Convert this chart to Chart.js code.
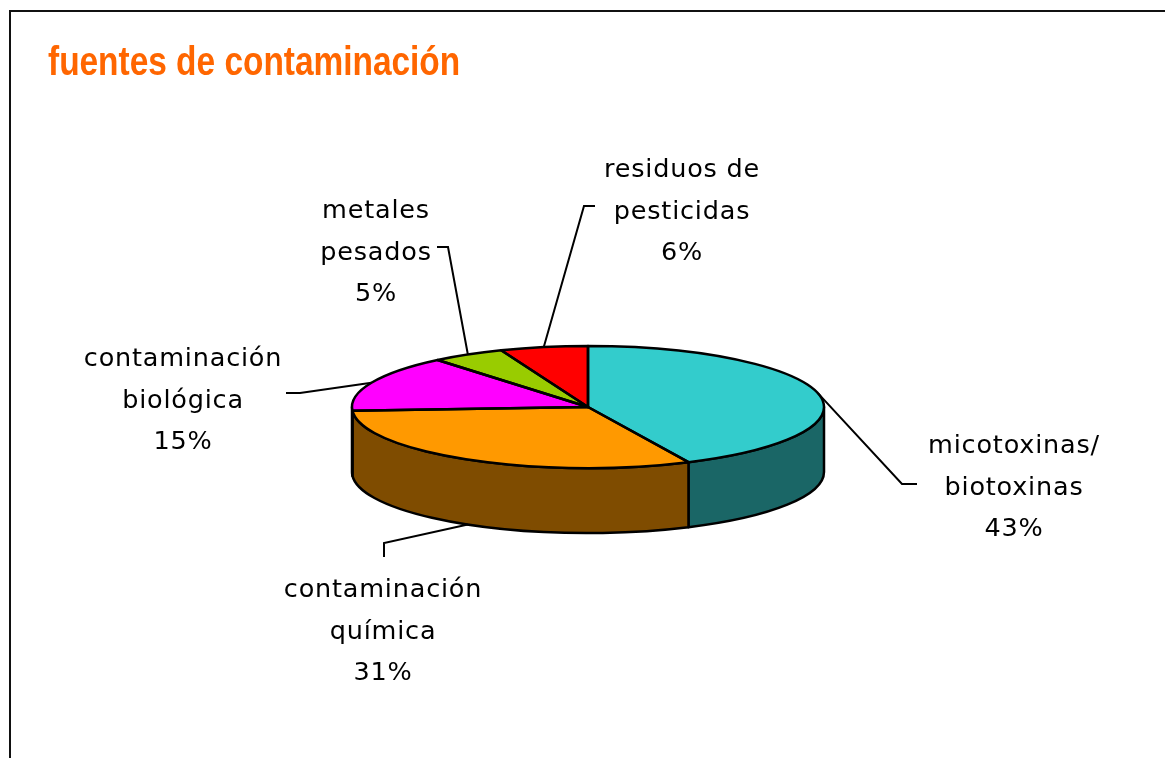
<!DOCTYPE html>
<html>
<head>
<meta charset="utf-8">
<script src="https://cdn.jsdelivr.net/npm/chart.js@4/dist/chart.umd.min.js"></script>
<style>
  html, body { margin: 0; padding: 0; background: #fff; overflow: hidden; }
  canvas { display: block; }
</style>
</head>
<body>
<canvas id="grafico" width="1165" height="758"></canvas>
<script>
// datos
const categorias = [
  ['micotoxinas/', 'biotoxinas'],
  ['contaminación', 'química'],
  ['contaminación', 'biológica'],
  ['metales', 'pesados'],
  ['residuos de', 'pesticidas']
]
const valores = [43, 31, 15, 5, 6]
const titulo = 'fuentes de contaminación'

// estilos
const coresTopo = ['#33CCCC', '#FF9900', '#FF00FF', '#99CC00', '#FF0000']
const coresLado = ['#1A6666', '#7F4C00', '#7F007F', '#4C6600', '#7F0000']
const inclinacao = 61 / 236
const profundidade = 65

// posicao dos rotulos: centro do texto, primeira linha base, cotovelo e fim da linha guia
const rotulos = [
  { x: 1014, y: 453, cotovelo: [902, 484], fim: [917, 484] },
  { x: 383, y: 597, cotovelo: [384, 543], fim: [384, 557] },
  { x: 183, y: 366, cotovelo: [300, 393], fim: [286, 393] },
  { x: 376, y: 218, cotovelo: [448, 247], fim: [437, 247] },
  { x: 682, y: 177, cotovelo: [584, 206], fim: [595, 206] }
]
const entreLinhas = 41.5

const total = valores.reduce(function(a, b) { return a + b }, 0)

const pizza3d = {
  id: 'pizza3d',
  beforeDraw(chart) {
    const ctx = chart.ctx
    ctx.save()
    ctx.strokeStyle = '#111'
    ctx.lineWidth = 2
    ctx.strokeRect(10, 11, 1400, 1000)
    ctx.fillStyle = '#FF6600'
    ctx.font = 'bold 41px "Liberation Sans", Arial, sans-serif'
    ctx.textBaseline = 'alphabetic'
    ctx.textAlign = 'left'
    // fonte estreita: comprime na horizontal
    ctx.translate(48, 75)
    ctx.scale(0.815, 1)
    ctx.fillText(titulo, 0, 0)
    ctx.restore()
  },
  beforeDatasetsDraw(chart) {
    const ctx = chart.ctx
    const arcos = chart.getDatasetMeta(0).data
    const cx = arcos[0].x, cy = arcos[0].y
    const rx = arcos[0].outerRadius, ry = rx * inclinacao
    ctx.save()
    ctx.lineWidth = 2.5
    ctx.strokeStyle = '#000'
    ctx.lineJoin = 'round'
    arcos.forEach(function(arco, i) {
      const a = Math.max(arco.startAngle, 0)
      const b = Math.min(arco.endAngle, Math.PI)
      if (b <= a) return
      ctx.beginPath()
      ctx.ellipse(cx, cy, rx, ry, 0, a, b)
      ctx.lineTo(cx + rx * Math.cos(b), cy + ry * Math.sin(b) + profundidade)
      ctx.ellipse(cx, cy + profundidade, rx, ry, 0, b, a, true)
      ctx.closePath()
      ctx.fillStyle = coresLado[i]
      ctx.fill()
      ctx.stroke()
    })
    ctx.restore()
    ctx.save()
    ctx.translate(cx, cy)
    ctx.scale(1, inclinacao)
    ctx.translate(-cx, -cy)
  },
  afterDatasetsDraw(chart) {
    const ctx = chart.ctx
    ctx.restore()
    const arcos = chart.getDatasetMeta(0).data
    const cx = arcos[0].x, cy = arcos[0].y
    const rx = arcos[0].outerRadius, ry = rx * inclinacao

    ctx.save()
    ctx.lineWidth = 2.5
    ctx.strokeStyle = '#000'
    ctx.lineJoin = 'round'
    arcos.forEach(function(arco) {
      ctx.beginPath()
      ctx.moveTo(cx, cy)
      ctx.ellipse(cx, cy, rx, ry, 0, arco.startAngle, arco.endAngle)
      ctx.closePath()
      ctx.stroke()
    })

    // linhas guia e textos
    ctx.lineWidth = 2
    ctx.lineJoin = 'miter'
    ctx.font = '25.5px "DejaVu Sans", sans-serif'
    ctx.letterSpacing = '0.8px'
    ctx.fillStyle = '#000'
    ctx.textAlign = 'center'
    ctx.textBaseline = 'alphabetic'
    arcos.forEach(function(arco, i) {
      const meio = (arco.startAngle + arco.endAngle) / 2
      let ax = cx + rx * Math.cos(meio)
      let ay = cy + ry * Math.sin(meio)
      if (Math.sin(meio) > 0) ay += profundidade
      const r = rotulos[i]
      ctx.beginPath()
      ctx.moveTo(ax, ay)
      ctx.lineTo(r.cotovelo[0], r.cotovelo[1])
      ctx.lineTo(r.fim[0], r.fim[1])
      ctx.stroke()
      const linhas = categorias[i].concat([Math.round(valores[i] / total * 100) + '%'])
      linhas.forEach(function(txt, k) {
        ctx.fillText(txt, r.x, r.y + k * entreLinhas)
      })
    })
    ctx.restore()
  }
}

new Chart(document.getElementById('grafico'), {
  type: 'pie',
  data: {
    labels: categorias.map(function(c) { return c.join(' ') }),
    datasets: [{
      data: valores,
      backgroundColor: coresTopo,
      borderWidth: 0,
      hoverOffset: 0,
      offset: 0,
      radius: 236
    }]
  },
  options: {
    responsive: false,
    devicePixelRatio: 1,
    animation: false,
    events: [],
    layout: { padding: { left: 352, right: 341, top: 171, bottom: 115 } },
    plugins: {
      legend: { display: false },
      tooltip: { enabled: false },
      title: { display: false }
    }
  },
  plugins: [pizza3d]
})
</script>
</body>
</html>
